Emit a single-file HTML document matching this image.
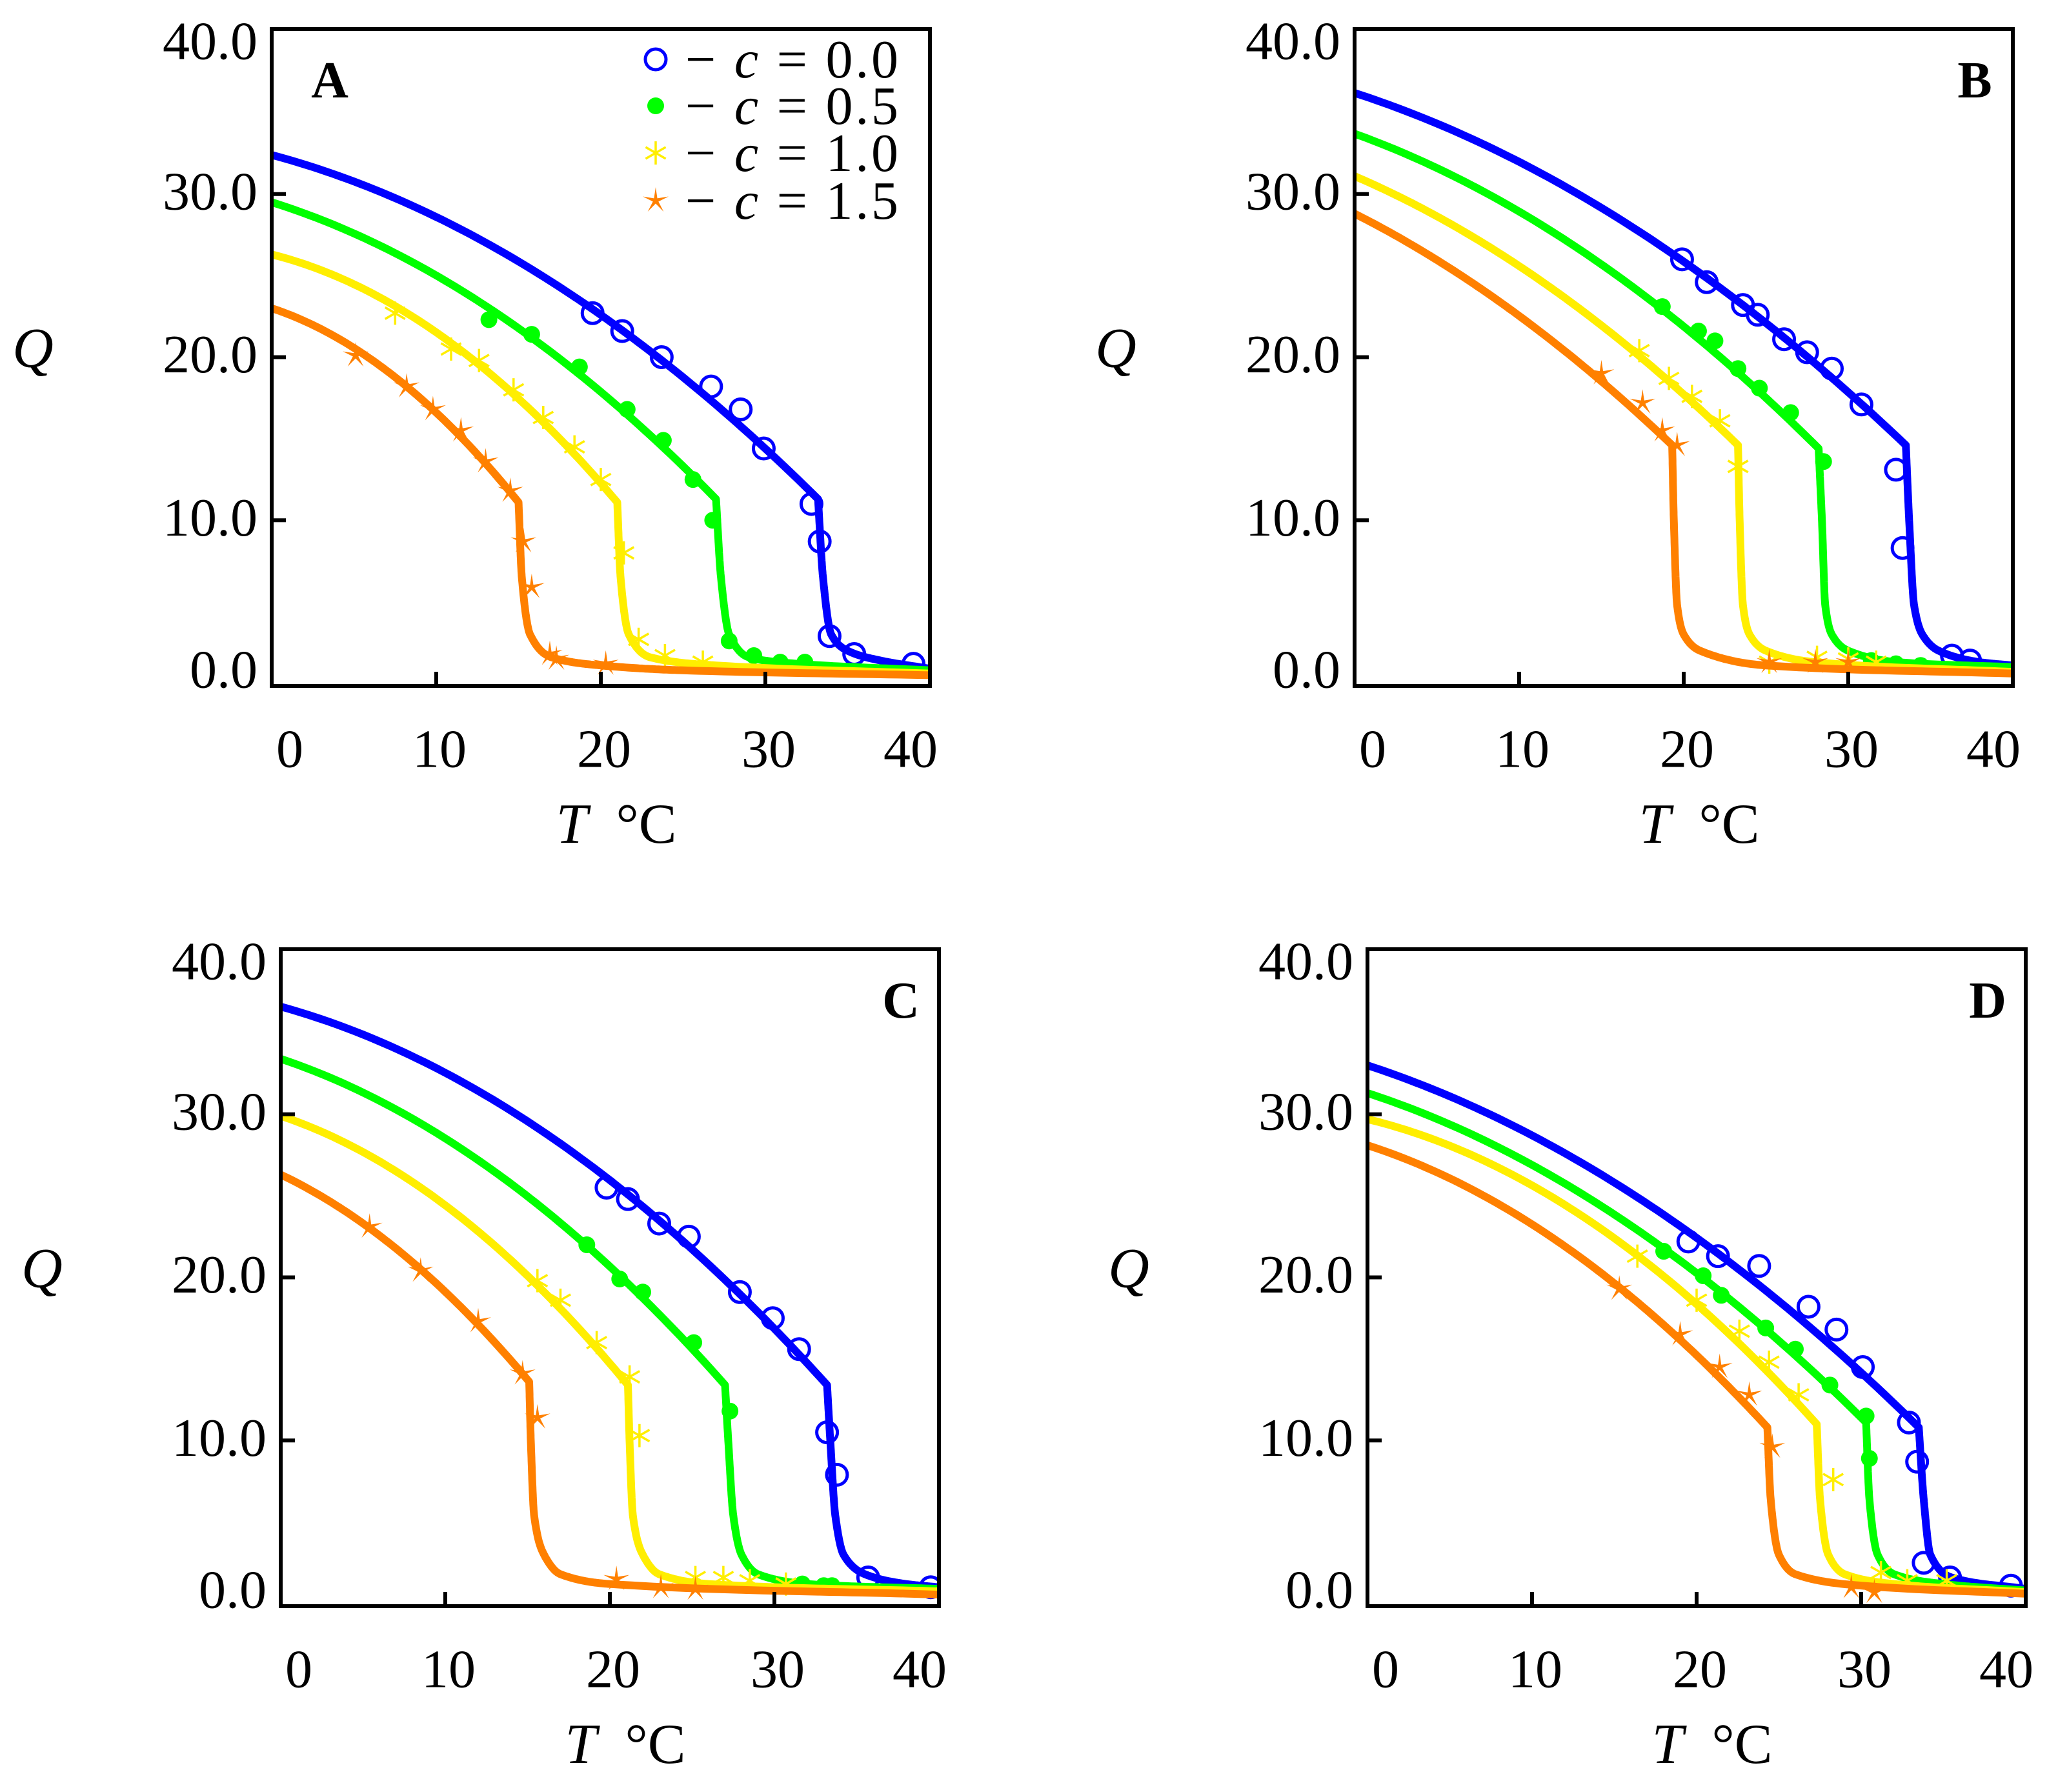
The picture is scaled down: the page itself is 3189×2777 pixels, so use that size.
<!DOCTYPE html>
<html><head><meta charset="utf-8"><style>
html,body{margin:0;padding:0;background:#fff;}
svg{display:block;}
text{font-family:"Liberation Serif",serif;fill:#000;}
</style></head><body>
<svg id="fig" width="3189" height="2777" viewBox="0 0 3189 2777" xmlns="http://www.w3.org/2000/svg"></svg>
<script>
// ---- shared axis data ----
const xTicks = [0, 10, 20, 30, 40];
const yTicks = [0, 10, 20, 30, 40];
const yTickLabels = ["0.0", "10.0", "20.0", "30.0", "40.0"];
const seriesNames = ["c0", "c05", "c10", "c15"];
const legendLabels = ["0.0", "0.5", "1.0", "1.5"];
const panelNames = ["A", "B", "C", "D"];

// ---- Panel A ----
const aBlueUpT = [0, 10, 20, 25, 30, 33.2];       const aBlueUpQ = [32.4, 28.0, 22.7, 19.2, 14.6, 11.3];
const aBlueLoT = [33.2, 33.5, 34, 35, 37, 40];      const aBlueLoQ = [11.3, 6.5, 3.0, 2.0, 1.4, 0.9];
const aBlueMT = [19.5, 21.3, 23.7, 26.7, 28.5, 29.9, 32.8, 33.3, 33.9, 35.4, 39.0];
const aBlueMQ = [22.7, 21.6, 20.0, 18.2, 16.8, 14.4, 11.0, 8.7, 2.9, 1.8, 1.2];
const aGreenUpT = [0, 10, 20, 25, 27];             const aGreenUpQ = [29.5, 24.2, 18.5, 14.3, 11.3];
const aGreenLoT = [27, 27.3, 27.8, 29, 32, 40];     const aGreenLoQ = [11.3, 6.5, 3.0, 1.6, 1.2, 0.8];
const aGreenMT = [13.2, 15.8, 18.7, 21.6, 23.8, 25.6, 26.8, 27.8, 29.3, 30.9, 32.4];
const aGreenMQ = [22.3, 21.4, 19.4, 16.8, 14.9, 12.5, 10.0, 2.6, 1.7, 1.3, 1.3];
const aYellowUpT = [0, 10, 15, 20, 21];            const aYellowUpQ = [26.3, 21.0, 17.8, 13.6, 11.1];
const aYellowLoT = [21, 21.2, 21.7, 23, 27, 40];    const aYellowLoQ = [11.1, 6.5, 3.0, 1.6, 1.1, 0.6];
const aYellowMT = [7.5, 10.9, 12.6, 14.7, 16.5, 18.4, 20.0, 21.4, 22.3, 23.9, 26.2];
const aYellowMQ = [22.7, 20.5, 19.8, 18.0, 16.3, 14.5, 12.5, 8.0, 2.7, 1.7, 1.3];
const aOrangeUpT = [0, 5, 10, 13, 15];             const aOrangeUpQ = [23.0, 20.2, 16.8, 13.8, 11.1];
const aOrangeLoT = [15, 15.2, 15.7, 17, 20, 25, 40]; const aOrangeLoQ = [11.1, 6.5, 3.0, 1.6, 1.1, 0.8, 0.5];
const aOrangeMT = [5.1, 8.2, 9.8, 11.5, 13.0, 14.5, 15.3, 15.8, 16.9, 17.3, 20.3];
const aOrangeMQ = [20.1, 18.2, 16.8, 15.5, 13.6, 11.8, 8.7, 5.9, 1.8, 1.5, 1.2];

// ---- Panel B ----
const bBlueUpT = [0, 10, 20, 25, 30, 33.5];        const bBlueUpQ = [36.2, 31.2, 26.0, 22.6, 18.2, 14.6];
const bBlueLoT = [33.5, 33.7, 34, 34.5, 35.5, 38, 40]; const bBlueLoQ = [14.6, 10, 4.8, 3.0, 2.0, 1.3, 1.1];
const bBlueMT = [19.9, 21.4, 23.6, 24.5, 26.1, 27.5, 29.0, 30.8, 32.9, 33.3, 36.3, 37.4];
const bBlueMQ = [26.0, 24.6, 23.2, 22.6, 21.1, 20.3, 19.3, 17.1, 13.1, 8.3, 1.7, 1.4];
const bGreenUpT = [0, 10, 20, 25, 28.2];           const bGreenUpQ = [33.7, 28.2, 22.2, 18.5, 14.4];
const bGreenLoT = [28.2, 28.4, 28.6, 29, 30, 33, 40]; const bGreenLoQ = [14.4, 10, 4.8, 3.0, 2.0, 1.3, 1.0];
const bGreenMT = [18.7, 20.9, 21.9, 23.3, 24.6, 26.5, 28.5, 31.4, 32.9, 34.4];
const bGreenMQ = [23.1, 21.6, 21.0, 19.3, 18.1, 16.6, 13.6, 1.4, 1.2, 1.1];
const bYellowUpT = [0, 10, 20, 23.3];              const bYellowUpQ = [31.1, 25.2, 18.5, 14.6];
const bYellowLoT = [23.3, 23.4, 23.6, 24, 25, 28, 40]; const bYellowLoQ = [14.6, 10, 4.8, 3.0, 2.0, 1.3, 0.7];
const bYellowMT = [17.3, 19.1, 20.5, 22.2, 23.3, 25.2, 28.1, 30.0, 31.7];
const bYellowMQ = [20.4, 18.7, 17.6, 16.1, 13.3, 1.3, 1.6, 1.5, 1.3];
const bOrangeUpT = [0, 10, 15, 19.3];              const bOrangeUpQ = [28.8, 22.2, 19.0, 14.6];
const bOrangeLoT = [19.3, 19.4, 19.6, 20, 21, 25, 40]; const bOrangeLoQ = [14.6, 10, 4.8, 3.0, 2.0, 1.1, 0.6];
const bOrangeMT = [15.0, 17.5, 18.7, 19.6, 25.2, 28.0, 30.0];
const bOrangeMQ = [19.0, 17.2, 15.5, 14.6, 1.3, 1.3, 1.3];

// ---- Panel C ----
const cBlueUpT = [0, 10, 20, 25, 30, 33.2];        const cBlueUpQ = [36.6, 31.8, 25.7, 22.4, 17.9, 13.4];
const cBlueLoT = [33.2, 33.4, 33.7, 34.2, 35.5, 38, 40]; const cBlueLoQ = [13.4, 9.9, 5.4, 3.0, 1.8, 1.2, 1.0];
const cBlueMT = [19.8, 21.1, 23.0, 24.8, 27.9, 29.9, 31.5, 33.2, 33.8, 35.7, 39.5];
const cBlueMQ = [25.5, 24.8, 23.3, 22.5, 19.1, 17.5, 15.6, 10.5, 7.9, 1.6, 1.0];
const cGreenUpT = [0, 10, 18.6, 25, 27.0];         const cGreenUpQ = [33.4, 28.3, 22.0, 16.2, 13.4];
const cGreenLoT = [27, 27.2, 27.5, 28, 29, 32, 40]; const cGreenLoQ = [13.4, 9.9, 5.4, 3.0, 1.8, 1.2, 0.9];
const cGreenMT = [18.6, 20.6, 22.0, 25.1, 27.3, 31.7, 33.0, 33.5];
const cGreenMQ = [22.0, 19.9, 19.1, 16.0, 11.8, 1.2, 1.1, 1.1];
const cYellowUpT = [0, 10, 15, 20, 21.1];          const cYellowUpQ = [29.9, 24.3, 20.1, 15.3, 13.4];
const cYellowLoT = [21.1, 21.2, 21.4, 22, 23, 26, 40]; const cYellowLoQ = [13.4, 9.9, 5.4, 3.0, 1.8, 1.2, 0.75];
const cYellowMT = [15.6, 17.0, 19.2, 21.2, 21.8, 25.2, 26.9, 28.5, 30.7];
const cYellowMQ = [19.8, 18.6, 16.0, 13.9, 10.3, 1.6, 1.6, 1.4, 1.2];
const cOrangeUpT = [0, 5, 10, 12, 15.1];           const cOrangeUpQ = [26.3, 22.9, 19.3, 17.4, 13.6];
const cOrangeLoT = [15.1, 15.2, 15.4, 16, 17, 20, 40]; const cOrangeLoQ = [13.6, 9.9, 5.4, 3.0, 1.8, 1.2, 0.55];
const cOrangeMT = [5.4, 8.5, 12.0, 14.7, 15.6, 20.4, 23.1, 25.2];
const cOrangeMQ = [23.1, 20.4, 17.3, 14.1, 11.4, 1.5, 1.0, 0.9];

// ---- Panel D ----
const dBlueUpT = [0, 10, 20, 25, 30, 33.5];        const dBlueUpQ = [33.0, 28.3, 22.4, 18.9, 14.4, 10.8];
const dBlueLoT = [33.5, 33.8, 34.2, 35.5, 40];      const dBlueLoQ = [10.8, 6.4, 3.0, 1.6, 0.9];
const dBlueMT = [19.5, 21.3, 23.8, 26.8, 28.5, 30.1, 32.9, 33.4, 33.8, 35.4, 39.1];
const dBlueMQ = [22.2, 21.3, 20.7, 18.2, 16.8, 14.5, 11.1, 8.7, 2.5, 1.6, 1.1];
const dGreenUpT = [0, 10, 20, 25, 30.3];           const dGreenUpQ = [31.3, 26.6, 20.3, 16.5, 11.1];
const dGreenLoT = [30.3, 30.5, 31, 32, 35, 40];     const dGreenLoQ = [11.1, 6.4, 3.0, 1.8, 1.2, 0.8];
const dGreenMT = [18.0, 20.4, 21.5, 24.2, 26.0, 28.1, 30.3, 30.5];
const dGreenMQ = [21.6, 20.1, 18.9, 16.9, 15.6, 13.4, 11.5, 8.9];
const dYellowUpT = [0, 10, 20, 25, 27.3];          const dYellowUpQ = [29.7, 25.0, 18.6, 14.8, 11.0];
const dYellowLoT = [27.3, 27.5, 28, 29, 32, 40];    const dYellowLoQ = [11.0, 6.4, 3.0, 1.8, 1.2, 0.7];
const dYellowMT = [16.4, 20.0, 22.6, 24.4, 26.2, 28.3, 31.2, 32.8, 35.2];
const dYellowMQ = [21.3, 18.6, 16.7, 14.8, 12.8, 7.6, 1.9, 1.4, 1.4];
const dOrangeUpT = [0, 10, 15, 20, 24.3];          const dOrangeUpQ = [28.1, 22.7, 19.6, 16.2, 10.8];
const dOrangeLoT = [24.3, 24.5, 25, 26, 30, 40];    const dOrangeLoQ = [10.8, 6.4, 3.0, 1.8, 1.1, 0.6];
const dOrangeMT = [15.3, 19.0, 21.4, 23.2, 24.6, 29.4, 30.8];
const dOrangeMQ = [19.3, 16.5, 14.5, 12.8, 9.6, 1.0, 0.7];

const NS = "http://www.w3.org/2000/svg";
const svg = document.getElementById("fig");
const COLORS = ["#0000ff", "#00ff00", "#ffee00", "#ff8000"];
const FW = 1020, FH = 1018;
const panels = [
  {L: 421, T: 45, letterRight: false, legend: true,
   s: [[aBlueUpT, aBlueUpQ, aBlueLoT, aBlueLoQ, aBlueMT, aBlueMQ],
       [aGreenUpT, aGreenUpQ, aGreenLoT, aGreenLoQ, aGreenMT, aGreenMQ],
       [aYellowUpT, aYellowUpQ, aYellowLoT, aYellowLoQ, aYellowMT, aYellowMQ],
       [aOrangeUpT, aOrangeUpQ, aOrangeLoT, aOrangeLoQ, aOrangeMT, aOrangeMQ]]},
  {L: 2099, T: 45, letterRight: true, legend: false,
   s: [[bBlueUpT, bBlueUpQ, bBlueLoT, bBlueLoQ, bBlueMT, bBlueMQ],
       [bGreenUpT, bGreenUpQ, bGreenLoT, bGreenLoQ, bGreenMT, bGreenMQ],
       [bYellowUpT, bYellowUpQ, bYellowLoT, bYellowLoQ, bYellowMT, bYellowMQ],
       [bOrangeUpT, bOrangeUpQ, bOrangeLoT, bOrangeLoQ, bOrangeMT, bOrangeMQ]]},
  {L: 435, T: 1471, letterRight: true, legend: false,
   s: [[cBlueUpT, cBlueUpQ, cBlueLoT, cBlueLoQ, cBlueMT, cBlueMQ],
       [cGreenUpT, cGreenUpQ, cGreenLoT, cGreenLoQ, cGreenMT, cGreenMQ],
       [cYellowUpT, cYellowUpQ, cYellowLoT, cYellowLoQ, cYellowMT, cYellowMQ],
       [cOrangeUpT, cOrangeUpQ, cOrangeLoT, cOrangeLoQ, cOrangeMT, cOrangeMQ]]},
  {L: 2119, T: 1471, letterRight: true, legend: false,
   s: [[dBlueUpT, dBlueUpQ, dBlueLoT, dBlueLoQ, dBlueMT, dBlueMQ],
       [dGreenUpT, dGreenUpQ, dGreenLoT, dGreenLoQ, dGreenMT, dGreenMQ],
       [dYellowUpT, dYellowUpQ, dYellowLoT, dYellowLoQ, dYellowMT, dYellowMQ],
       [dOrangeUpT, dOrangeUpQ, dOrangeLoT, dOrangeLoQ, dOrangeMT, dOrangeMQ]]}
];

function mk(tag, attrs, parent) {
  const e = document.createElementNS(NS, tag);
  for (const k in attrs) e.setAttribute(k, attrs[k]);
  (parent || svg).appendChild(e);
  return e;
}
// Smooth upper branch: quadratic through the first and last read points,
// curvature fitted (least squares) to the interior read points.
function smoothUpper(T, Q, n) {
  const k = T.length, t0 = T[0], t1 = T[k - 1], q0 = Q[0], q1 = Q[k - 1];
  const lin = t => q0 + (q1 - q0) * (t - t0) / (t1 - t0);
  let num = 0, den = 0;
  for (let i = 1; i < k - 1; i++) {
    const b = (T[i] - t0) * (T[i] - t1);
    num += b * (Q[i] - lin(T[i])); den += b * b;
  }
  const a = den > 0 ? num / den : 0;
  const out = [];
  for (let j = 0; j <= n; j++) {
    const t = t0 + (t1 - t0) * j / n;
    out.push([t, lin(t) + a * (t - t0) * (t - t1)]);
  }
  return out;
}
// Monotone cubic (Fritsch-Carlson) for the drop/tail branch
function monotone(T, Q, n) {
  const k = T.length, d = [], m = new Array(k);
  for (let i = 0; i < k - 1; i++) d.push((Q[i + 1] - Q[i]) / (T[i + 1] - T[i]));
  m[0] = d[0]; m[k - 1] = d[k - 2];
  for (let i = 1; i < k - 1; i++) {
    if (d[i - 1] * d[i] <= 0) m[i] = 0;
    else {
      const h0 = T[i] - T[i - 1], h1 = T[i + 1] - T[i];
      const w1 = 2 * h1 + h0, w2 = h1 + 2 * h0;
      m[i] = (w1 + w2) / (w1 / d[i - 1] + w2 / d[i]);
    }
  }
  const out = [];
  for (let i = 0; i < k - 1; i++) {
    const h = T[i + 1] - T[i];
    for (let j = 0; j < n; j++) {
      const s = j / n, s2 = s * s, s3 = s2 * s;
      const q = (2 * s3 - 3 * s2 + 1) * Q[i] + (s3 - 2 * s2 + s) * h * m[i] + (-2 * s3 + 3 * s2) * Q[i + 1] + (s3 - s2) * h * m[i + 1];
      out.push([T[i] + s * h, q]);
    }
  }
  out.push([T[k - 1], Q[k - 1]]);
  return out;
}
function drawMarker(g, kind, x, y, color) {
  let m;
  if (kind === 0) {
    m = mk("circle", {cx: x, cy: y, r: 16, fill: "none", stroke: color, "stroke-width": 5}, g);
  } else if (kind === 1) {
    m = mk("circle", {cx: x, cy: y, r: 13, fill: color}, g);
  } else if (kind === 2) {
    let d = "";
    for (let a = 0; a < 3; a++) {
      const ang = Math.PI / 2 + a * Math.PI / 3, r = 18;
      d += "M" + (x + r * Math.cos(ang)).toFixed(1) + "," + (y + r * Math.sin(ang)).toFixed(1) + "L" + (x - r * Math.cos(ang)).toFixed(1) + "," + (y - r * Math.sin(ang)).toFixed(1);
    }
    m = mk("path", {d: d, stroke: color, "stroke-width": 3.5, fill: "none"}, g);
  } else {
    let pts = [];
    for (let i = 0; i < 10; i++) {
      const ang = -Math.PI / 2 + i * Math.PI / 5, r = i % 2 === 0 ? 21 : 4.5;
      pts.push((x + r * Math.cos(ang)).toFixed(1) + "," + (y + r * Math.sin(ang)).toFixed(1));
    }
    m = mk("polygon", {points: pts.join(" "), fill: color}, g);
  }
  return m;
}

panels.forEach((p, pi) => {
  const g = mk("g", {});
  
  
  const xs = t => p.L + t / 40 * FW;
  const ys = q => p.T + 3 + (40 - q) / 40 * (FH - 7);
  const clipId = "clip" + pi;
  const cp = mk("clipPath", {id: clipId}, g);
  mk("rect", {x: p.L, y: p.T, width: FW, height: FH}, cp);
  const plot = mk("g", {"clip-path": "url(#" + clipId + ")"}, g);
  
  
  p.s.forEach((s, si) => {
    const pts = smoothUpper(s[0], s[1], 80).concat(monotone(s[2], s[3], 30));
    const d = "M" + pts.map(pt => xs(pt[0]).toFixed(1) + "," + ys(pt[1]).toFixed(1)).join(" L");
    const path = mk("path", {d: d, fill: "none", stroke: COLORS[si], "stroke-width": 12, "stroke-linecap": "round", "stroke-linejoin": "round"}, plot);
    
    
    s[4].forEach((t, i) => {
      const m = drawMarker(plot, si, xs(t), ys(s[5][i]), COLORS[si]);
      
      
    });
  });
  const frame = mk("rect", {x: p.L, y: p.T, width: FW, height: FH, fill: "none", stroke: "#000", "stroke-width": 6}, g);
  
  
  xTicks.forEach((t, i) => {
    if (i > 0 && i < xTicks.length - 1) {
      const tk = mk("line", {x1: xs(t), x2: xs(t), y1: p.T + FH, y2: p.T + FH - 22, stroke: "#000", "stroke-width": 6}, g);
      
      
    }
    let lx = xs(t) + 5;
    if (i === 0) lx = p.L + 28;
    if (i === xTicks.length - 1) lx = p.L + 990;
    const tl = mk("text", {x: lx, y: p.T + FH + 98, "font-size": 84, "text-anchor": "middle", "dominant-baseline": "central"}, g);
    tl.textContent = String(t);
    
    
  });
  yTicks.forEach((q, i) => {
    if (i > 0 && i < yTicks.length - 1) {
      const tk = mk("line", {x1: p.L, x2: p.L + 22, y1: ys(q), y2: ys(q), stroke: "#000", "stroke-width": 6}, g);
      
      
    }
    let ly = ys(q) - 4;
    if (i === 0) ly -= 17;
    if (i === yTicks.length - 1) ly += 20;
    const tl = mk("text", {x: p.L - 22, y: ly, "font-size": 84, "text-anchor": "end", "dominant-baseline": "central"}, g);
    tl.textContent = yTickLabels[i];
    
    
  });
  const yl = mk("text", {x: p.L - 370, y: p.T + 495, "font-size": 88, "font-style": "italic", "text-anchor": "middle", "dominant-baseline": "central"}, g);
  yl.textContent = "Q";
  
  
  const xl = mk("text", {x: p.L + 534, y: p.T + 1232, "font-size": 88, "text-anchor": "middle", "dominant-baseline": "central"}, g);
  const ti = mk("tspan", {"font-style": "italic"}, xl); ti.textContent = "T";
  const tc = mk("tspan", {}, xl); tc.textContent = "\u2002\u00b0C";
  
  
  const lt = mk("text", {x: p.letterRight ? p.L + 961 : p.L + 90, y: p.T + 80, "font-size": 80, "font-weight": "bold", "text-anchor": "middle", "dominant-baseline": "central"}, g);
  lt.textContent = panelNames[pi];
  
  
  if (p.legend) {
    const lg = mk("g", {}, g);
    
    
    const rows = [92, 164, 237, 311];
    legendLabels.forEach((lab, i) => {
      const e = mk("g", {}, lg);
      
      
      drawMarker(e, i, 1016, rows[i], COLORS[i]);
      const t = mk("text", {x: 1062, y: rows[i], "font-size": 84, "textLength": 330, "dominant-baseline": "central"}, e);
      const a = mk("tspan", {}, t); a.textContent = "\u2212 ";
      const b = mk("tspan", {"font-style": "italic"}, t); b.textContent = "c";
      const c = mk("tspan", {}, t); c.textContent = " = " + lab;
    });
  }
});
</script>
</body></html>
